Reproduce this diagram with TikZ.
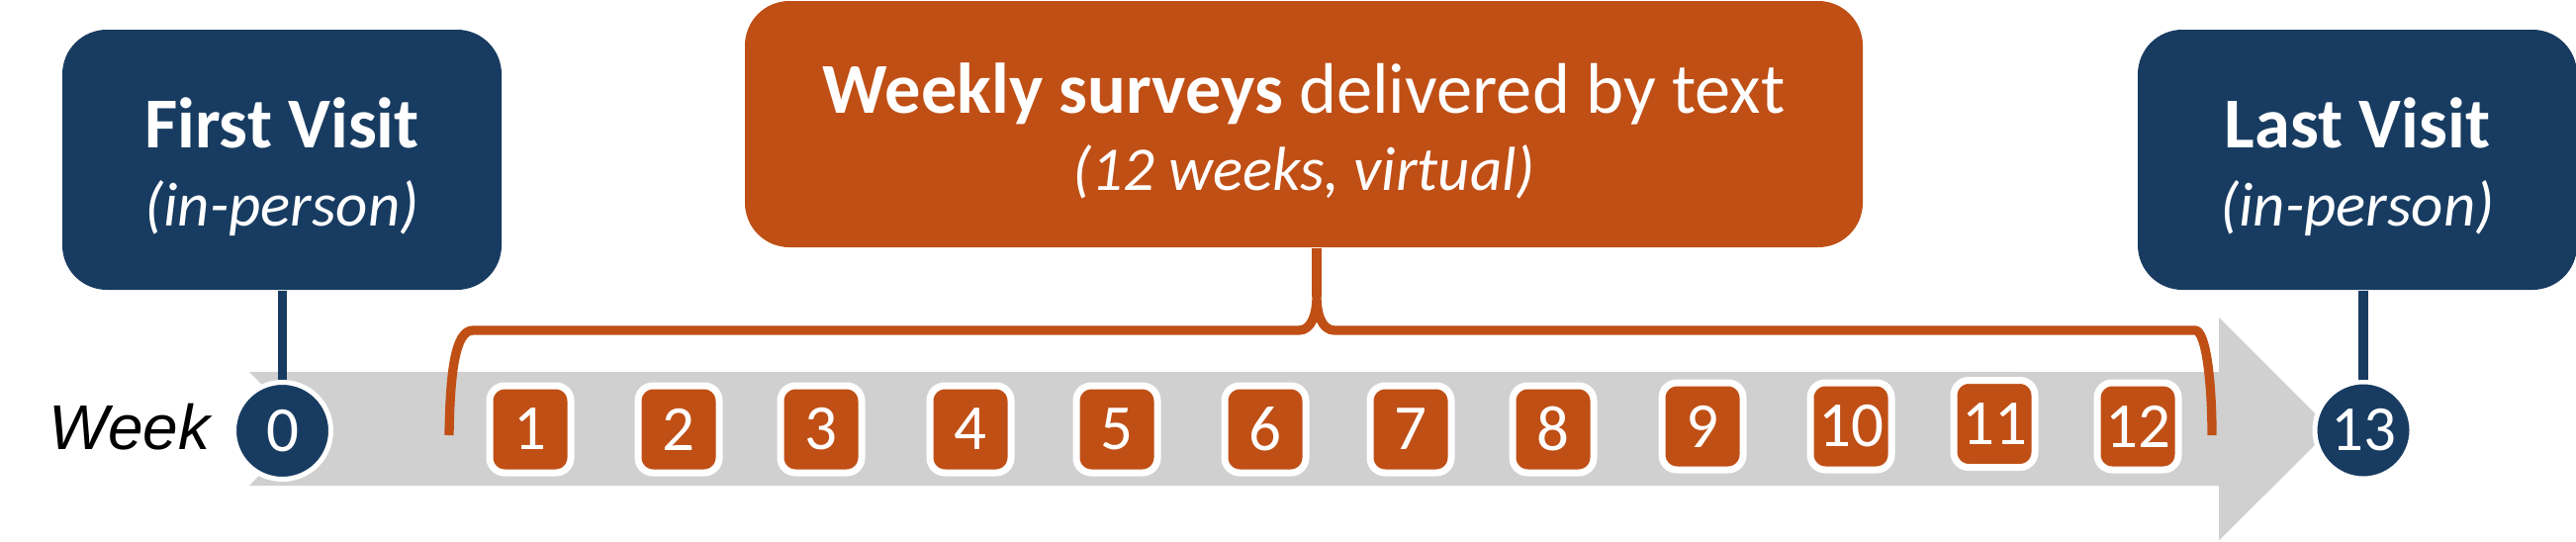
\documentclass[tikz,border=0pt]{standalone}
\usepackage{fontspec}
\setmainfont{Carlito}
\newfontfamily\weekfont{Liberation Sans}
\usetikzlibrary{positioning,calc}
\definecolor{navy}{HTML}{183C61}
\definecolor{rust}{HTML}{C04F15}
\definecolor{bargray}{HTML}{D0D0D0}

\begin{document}
\begin{tikzpicture}[
  visit/.style={fill=navy, rounded corners=0.45cm, minimum width=4.44cm, minimum height=2.63cm, inner sep=0pt, text=white, align=center, font=\fontsize{20.6}{22.5}\selectfont},
  survey/.style={fill=rust, rounded corners=0.45cm, minimum width=11.3cm, minimum height=2.49cm, inner sep=0pt, text=white, align=center, font=\fontsize{20.6}{22.2}\selectfont},
  daycirc/.style={circle, fill=navy, draw=white, line width=0.05cm, minimum size=0.98cm, inner sep=0pt, text=white, font=\fontsize{18.5}{18.5}\selectfont},
  wk/.style={rectangle, rounded corners=0.15cm, fill=rust, draw=white, line width=0.07cm, minimum width=0.82cm, minimum height=0.88cm, inner sep=0pt, text=white, font=\fontsize{18.5}{18.5}\selectfont},
  stem/.style={navy, line width=0.095cm},
  bracket/.style={rust, line width=0.093cm, line join=round}
  ]
\useasboundingbox (0,0) rectangle (26.04,5.47);

% timeline
\fill[bargray] (2.52,1.71) -- (22.43,1.71) -- (22.43,2.26) -- (23.56,1.13) -- (22.43,0.005) -- (22.43,0.56) -- (2.52,0.56) -- (3.09,1.135) -- cycle;

\node[visit] (first) at (2.85,3.855) {\rule{0pt}{0.66cm}\textbf{First Visit}\\{\fontsize{17.9}{22.5}\selectfont\itshape (in-person)}};
\node[visit] (last) at (23.83,3.855) {\rule{0pt}{0.66cm}\textbf{Last Visit}\\{\fontsize{17.9}{22.5}\selectfont\itshape (in-person)}};
\node[survey] (survey) at (13.18,4.215) {\rule{0pt}{0.64cm}\textbf{Weekly surveys} delivered by text\\{\fontsize{17.9}{22.2}\selectfont\itshape (12 weeks, virtual)}};

% brace
\draw[bracket] (4.54,1.07) .. controls (4.55,1.7) and (4.6,2.13) .. (4.78,2.13) -- (13.13,2.13)
  .. controls (13.26,2.13) and (13.31,2.3) .. (13.31,2.47)
  .. controls (13.31,2.3) and (13.36,2.13) .. (13.49,2.13) -- (22.19,2.13)
  .. controls (22.3,2.13) and (22.36,1.6) .. (22.36,1.07);
\draw[bracket] (13.31,2.47) -- (13.31,2.47 |- survey.south);

\node[daycirc] (w0) at (2.855,1.115) {0};
\node[daycirc] (w13) at (23.89,1.12) {13};
\node[anchor=base east, inner sep=0pt, font=\weekfont\itshape\fontsize{18.2}{18.2}\selectfont] (week) at (2.13,0.93) {Week};

\foreach \n/\x/\y in {1/5.36/1.13, 2/6.86/1.13, 3/8.30/1.13, 4/9.81/1.13, 5/11.29/1.13, 6/12.79/1.13, 7/14.26/1.13, 8/15.70/1.13, 9/17.21/1.16, 10/18.71/1.16, 11/20.16/1.185, 12/21.61/1.16}
  \node[wk] (w\n) at (\x,\y) {\n};

\draw[stem] (first.south -| w0.north) -- (w0.north);
\draw[stem] (w13.north |- last.south) -- (w13.north);
\end{tikzpicture}
\end{document}
